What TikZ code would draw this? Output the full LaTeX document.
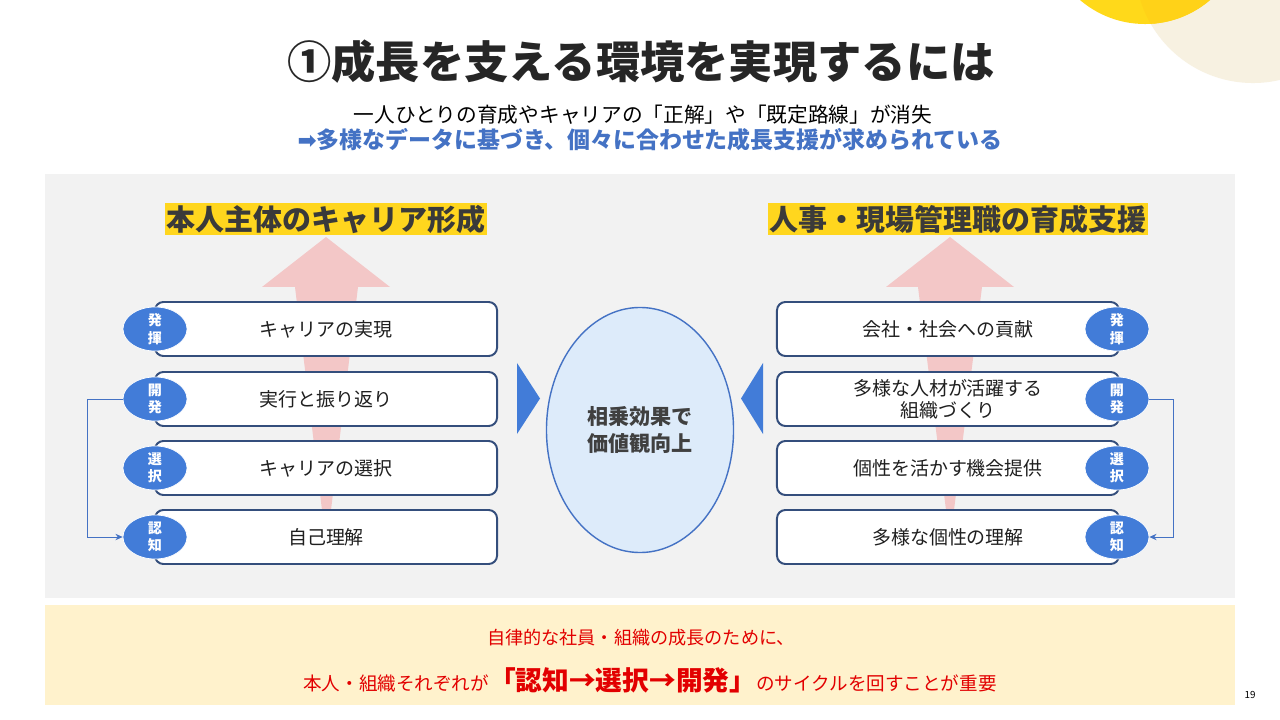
\documentclass[tikz,border=0pt]{standalone}
\usepackage{fontspec}
\setmainfont{Noto Sans CJK JP}
\newfontfamily\symfont{DejaVu Sans}
\usetikzlibrary{positioning,arrows.meta,shapes.geometric}
\definecolor{titlegray}{RGB}{38,38,38}
\definecolor{labelgray}{RGB}{58,58,58}
\definecolor{accentblue}{RGB}{68,114,196}
\definecolor{badgeblue}{RGB}{66,124,216}
\definecolor{boxline}{RGB}{52,78,124}
\definecolor{panelgray}{RGB}{242,242,242}
\definecolor{hlyellow}{RGB}{255,214,30}
\definecolor{arrowpink}{RGB}{243,199,199}
\definecolor{centerfill}{RGB}{221,235,250}
\definecolor{notecream}{RGB}{255,242,204}
\definecolor{notered}{RGB}{226,0,0}
\definecolor{sunyellow}{RGB}{255,217,26}
\definecolor{sunbeige}{RGB}{247,241,225}

\begin{document}
\begin{tikzpicture}[
  x=0.025cm, y=-0.025cm,
  stepbox/.style={draw=boxline, line width=1.4pt, fill=white, rounded corners=6pt, minimum width=8.55cm, minimum height=1.35cm, inner sep=0pt, align=center, text=black!88, font=\fontsize{13.5}{15.5}\selectfont},
  badge/.style={ellipse, fill=badgeblue, draw=white, line width=0.5pt, minimum width=1.6cm, minimum height=1.1cm, inner sep=0pt, align=center, text=white, font=\bfseries\fontsize{10}{12.5}\selectfont},
  sidelabel/.style={fill=hlyellow, inner xsep=1pt, inner ysep=1.5pt, text=labelgray, font=\bfseries\fontsize{20.6}{24}\selectfont},
  looparr/.style={draw=accentblue, line width=0.6pt, -{Stealth[length=1.8mm, width=1.6mm]}},
  notetext/.style={text=notered, inner sep=0pt, font=\fontsize{13.2}{15}\selectfont}
]
\useasboundingbox (0,0) rectangle (1280,720);
\fill[white] (0,0) rectangle (1280,720);
\fill[sunbeige] (1253,-35) circle[radius=2.95cm];
\fill[sunyellow] (1145,-76) circle[radius=2.5cm];
\begin{scope}
  \clip (1253,-35) circle[radius=2.95cm];
  \fill[sunyellow!92!orange] (1145,-76) circle[radius=2.5cm];
\end{scope}
\node[text=titlegray, font=\bfseries\fontsize{31.5}{36}\selectfont] at (641,62) (title) {①成長を支える環境を実現するには};
\node[text=black, font=\fontsize{14.7}{17}\selectfont] at (643,115) (sub1) {一人ひとりの育成やキャリアの「正解」や「既定路線」が消失};
\node[text=accentblue, font=\bfseries\fontsize{16.3}{19}\selectfont] at (650,140) (sub2) {{\symfont ➡}多様なデータに基づき、個々に合わせた成長支援が求められている};
\fill[panelgray] (45,174) rectangle (1235,598);
\node[sidelabel] at (326,219) (selflabel) {本人主体のキャリア形成};
\node[sidelabel] at (958,219) (orglabel) {人事・現場管理職の育成支援};
\fill[arrowpink] (262,287) -- (326,237) -- (390,287) -- (358,287) -- (331,510) -- (322,510) -- (295,287) -- cycle;
\fill[arrowpink] (886,287) -- (950,237) -- (1014,287) -- (982,287) -- (954,510) -- (946,510) -- (918,287) -- cycle;
\node[stepbox] at (326,329) (lbox1) {キャリアの実現};
\node[stepbox] at (326,399) (lbox2) {実行と振り返り};
\node[stepbox] at (326,468) (lbox3) {キャリアの選択};
\node[stepbox] at (326,537) (lbox4) {自己理解};
\node[stepbox] at (948,329) (rbox1) {会社・社会への貢献};
\node[stepbox] at (948,399) (rbox2) {多様な人材が活躍する\\組織づくり};
\node[stepbox] at (948,468) (rbox3) {個性を活かす機会提供};
\node[stepbox] at (948,537) (rbox4) {多様な個性の理解};
\node[badge] at (155,329) (lbadge1) {発\\揮};
\node[badge] at (155,399) (lbadge2) {開\\発};
\node[badge] at (155,468) (lbadge3) {選\\択};
\node[badge] at (155,537) (lbadge4) {認\\知};
\node[badge] at (1117,329) (rbadge1) {発\\揮};
\node[badge] at (1117,399) (rbadge2) {開\\発};
\node[badge] at (1117,468) (rbadge3) {選\\択};
\node[badge] at (1117,537) (rbadge4) {認\\知};
\draw[looparr] (lbadge2.west) -- ++(-35,0) |- (lbadge4.west);
\draw[looparr] (rbadge2.east) -- ++(24,0) |- (rbadge4.east);
\fill[badgeblue] (517,363) -- (540,398.5) -- (517,434) -- cycle;
\fill[badgeblue] (763,363) -- (741,398.5) -- (763,434) -- cycle;
\node[ellipse, fill=centerfill, draw=accentblue, line width=1pt, minimum width=4.675cm, minimum height=6.125cm, align=center, text=black!75, font=\bfseries\fontsize{15}{19.2}\selectfont] at (640,430) (synergy) {相乗効果で\\価値観向上};
\fill[notecream] (45,605) rectangle (1235,705);
\node[notetext, font=\fontsize{12.9}{15}\selectfont] at (641,638) (note1) {自律的な社員・組織の成長のために、};
\node[notetext] at (650,680) (note2) {本人・組織それぞれが{\bfseries\fontsize{19}{22}\selectfont「認知→選択→開発」}のサイクルを回すことが重要};
\node[font=\fontsize{7}{8}\selectfont] at (1250,695) (pagenum) {19};
\end{tikzpicture}
\end{document}
